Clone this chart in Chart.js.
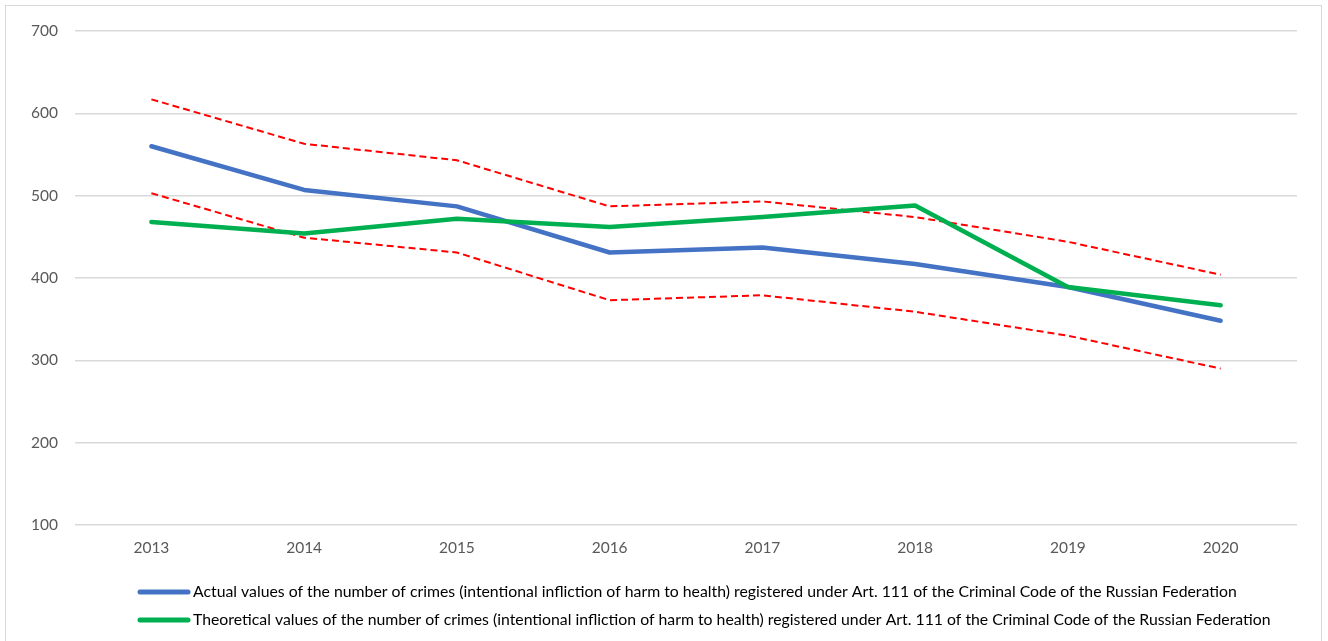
<!DOCTYPE html>
<html>
<head>
<meta charset="utf-8">
<script src="https://cdn.jsdelivr.net/npm/chart.js@4/dist/chart.umd.min.js"></script>
<style>
  html, body { margin: 0; padding: 0; background: #ffffff; overflow: hidden; }
  #frame { position: absolute; left: 5px; top: 5px; width: 1317px; height: 660px; border: 1px solid #d9d9d9; box-sizing: border-box; }
  #wrap { position: absolute; left: 0; top: 0; width: 1328px; height: 641px; }
</style>
</head>
<body>
<div id="frame"></div>
<div id="wrap"><canvas id="chart" width="1328" height="641"></canvas></div>
<script>
// Years on the horizontal axis
const years = ['2013', '2014', '2015', '2016', '2017', '2018', '2019', '2020'];

// Registered crimes under Art. 111 (actual) and model estimates (theoretical)
const actualValues = [560, 507, 487, 431, 437, 417, 389, 348];
const theoreticalValues = [468, 454, 472, 462, 474, 488, 389, 367];

// Upper and lower bounds of the confidence band
const upperBound = [617, 563, 543, 487, 493, 474, 444, 404];
const lowerBound = [503, 449, 431, 373, 379, 359, 330, 290];

const actualLabel = 'Actual values of the number of crimes (intentional infliction of harm to health) registered under Art. 111 of the Criminal Code of the Russian Federation';
const theoreticalLabel = 'Theoretical values of the number of crimes (intentional infliction of harm to health) registered under Art. 111 of the Criminal Code of the Russian Federation';

const tickFont = { family: 'Lato, "Open Sans", sans-serif', size: 15.5 };

// Legend drawn as line swatches stacked under the axis, left aligned
const lineLegend = {
  id: 'lineLegend',
  afterDraw(chart) {
    const ctx = chart.ctx;
    const area = chart.chartArea;
    const items = chart.data.datasets.filter(d => d.inLegend);
    ctx.save();
    ctx.font = '15.8px Lato, "Open Sans", sans-serif';
    ctx.textBaseline = 'middle';
    ctx.textAlign = 'left';
    items.forEach((d, i) => {
      const y = area.bottom + 67 + i * 28;
      ctx.strokeStyle = d.borderColor;
      ctx.lineWidth = 5;
      ctx.lineCap = 'round';
      ctx.beginPath();
      ctx.moveTo(140, y);
      ctx.lineTo(188, y);
      ctx.stroke();
      ctx.fillStyle = '#000000';
      ctx.fillText(d.label, 193, y);
    });
    ctx.restore();
  }
};

new Chart(document.getElementById('chart'), {
  type: 'line',
  data: {
    labels: years,
    datasets: [
      {
        label: actualLabel, data: actualValues, inLegend: true,
        borderColor: '#4472C4', borderWidth: 4.5, borderCapStyle: 'round', borderJoinStyle: 'round',
        pointRadius: 0, tension: 0, order: 1
      },
      {
        label: theoreticalLabel, data: theoreticalValues, inLegend: true,
        borderColor: '#00B050', borderWidth: 4.5, borderCapStyle: 'round', borderJoinStyle: 'round',
        pointRadius: 0, tension: 0, order: 0
      },
      {
        label: 'Upper bound', data: upperBound, inLegend: false,
        borderColor: '#FF0000', borderWidth: 2, borderDash: [7, 4],
        pointRadius: 0, tension: 0, order: 2
      },
      {
        label: 'Lower bound', data: lowerBound, inLegend: false,
        borderColor: '#FF0000', borderWidth: 2, borderDash: [7, 4],
        pointRadius: 0, tension: 0, order: 2
      }
    ]
  },
  options: {
    responsive: false,
    animation: false,
    layout: { padding: { left: 0, right: 31, top: 31, bottom: 0 } },
    plugins: {
      legend: { display: false },
      tooltip: { enabled: false }
    },
    scales: {
      x: {
        offset: true,
        grid: { display: false, drawTicks: false },
        border: { display: false },
        ticks: { color: '#595959', font: tickFont, padding: 14, maxRotation: 0 },
        afterFit(scale) { scale.height = 116; }
      },
      y: {
        min: 100, max: 700,
        grid: { color: '#d9d9d9', lineWidth: 1.5, drawTicks: false },
        border: { display: false },
        ticks: { stepSize: 100, color: '#595959', font: tickFont, padding: 17 },
        afterFit(scale) { scale.width = 75; }
      }
    }
  },
  plugins: [lineLegend]
});
</script>
</body>
</html>
